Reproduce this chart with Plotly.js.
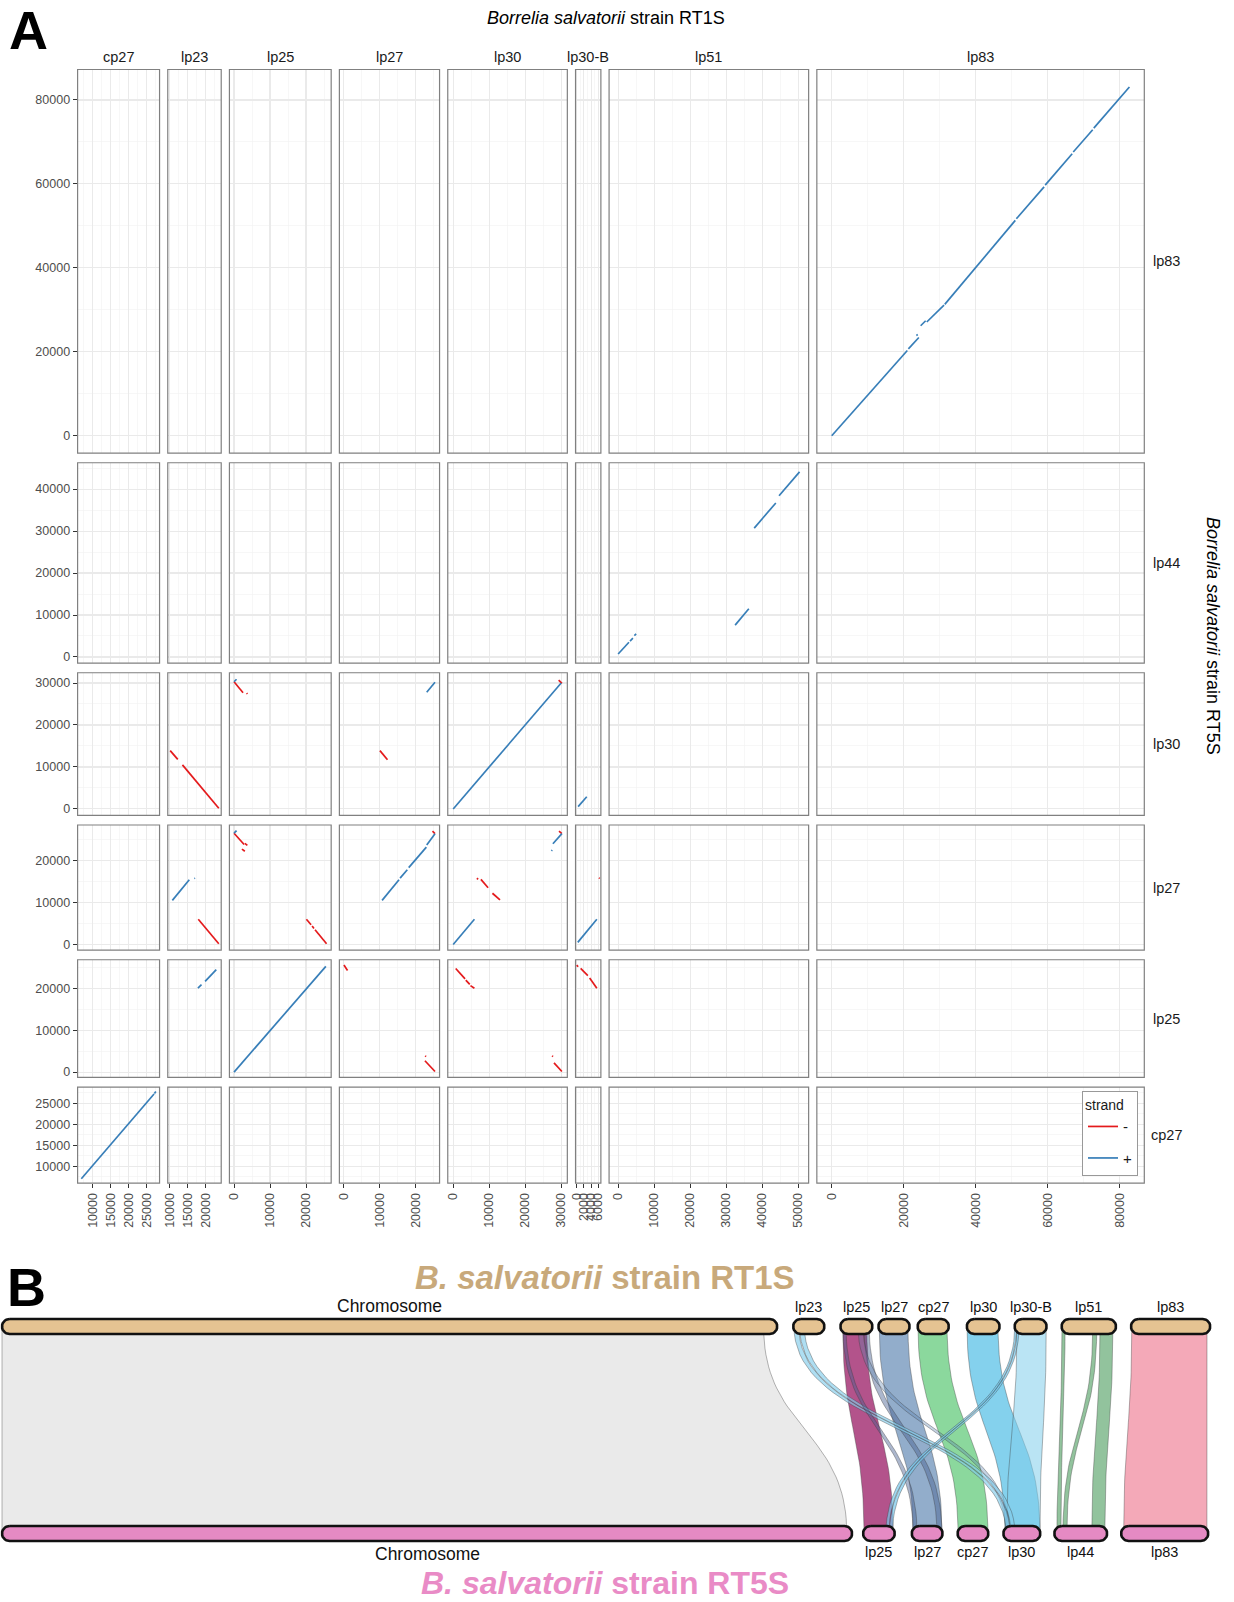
<!DOCTYPE html>
<html><head><meta charset="utf-8">
<script src="https://cdn.plot.ly/plotly-3.0.1.min.js"></script>
<style>html,body{margin:0;padding:0;background:#fff}</style>
</head><body><div id="chart" style="width:1234px;height:1602px"></div>
<script>
// ================= DATA =================
// Panel A: dot plot, x = B. salvatorii RT1S plasmids, y = RT5S plasmids (rows top to bottom)
const qryPlasmids = ['cp27','lp23','lp25','lp27','lp30','lp30-B','lp51','lp83'];
const refPlasmids = ['lp83','lp44','lp30','lp27','lp25','cp27'];
const strandLevels = ['-','+'];

// alignment segments per panel: [x start, y start, x end, y end, strand]
const seg_lp83_lp83 = [[0,0,21000,20300,'+'],[21300,20700,24200,23400,'+'],[23500,23900,23900,24100,'+'],[24700,26200,26100,27400,'+'],[26400,27100,31200,31100,'+'],[31400,31300,51000,51300,'+'],[51300,51700,59000,59300,'+'],[59300,59700,66800,67200,'+'],[67100,67600,72500,72900,'+'],[72800,73300,82700,83100,'+']];
const seg_lp51_lp44 = [[0,700,3000,3500,'+'],[3300,3800,4100,4500,'+'],[4500,5100,5000,5500,'+'],[32500,7600,36300,11500,'+'],[37800,30700,43800,36700,'+'],[44700,38400,50400,44100,'+']];
const seg_lp23_lp30 = [[10100,13900,12200,11800,'-'],[13500,10500,23600,150,'-']];
const seg_lp25_lp30 = [[0,30300,2500,27700,'-'],[3500,27600,3700,27400,'-'],[0,30300,700,30900,'+']];
const seg_lp27_lp30 = [[23000,27800,25300,30200,'+'],[10000,13900,12100,11700,'-']];
const seg_lp30_lp30 = [[0,0,30000,30000,'+'],[29300,30700,30200,29900,'-']];
const seg_lp30B_lp30 = [[400,550,2800,2900,'+']];
const seg_lp23_lp27 = [[10700,10500,15400,15400,'+'],[16800,15700,17000,15800,'+'],[17900,6000,23600,150,'-']];
const seg_lp25_lp27 = [[0,26500,2800,23800,'-'],[3000,24100,3700,23600,'-'],[2200,22700,3000,22200,'-'],[0,26500,700,27100,'+'],[20100,6000,21400,4700,'-'],[21700,4400,22200,3800,'-'],[22500,3500,25700,150,'-']];
const seg_lp27_lp27 = [[10600,10500,15300,15400,'+'],[15600,15800,17600,17800,'+'],[18000,18300,22900,23200,'+'],[23000,23700,25300,26400,'+'],[24600,27000,25300,26400,'-']];
const seg_lp30_lp27 = [[0,0,5900,6000,'+'],[6600,15800,6900,15500,'-'],[7700,15500,9700,13500,'-'],[10900,12200,13000,10600,'-'],[27300,22300,27500,22500,'+'],[27700,24000,30200,26400,'+'],[29400,27000,30200,26400,'-']];
const seg_lp30B_lp27 = [[300,500,5600,6000,'+'],[6200,15900,6400,15700,'-']];
const seg_lp23_lp25 = [[17800,20000,18800,20850,'+'],[19800,21600,22900,24400,'+']];
const seg_lp25_lp25 = [[0,0,25500,25200,'+']];
const seg_lp27_lp25 = [[0,25500,1000,24200,'-'],[22600,3900,22800,3700,'-'],[22500,2700,25300,150,'-']];
const seg_lp30_lp25 = [[700,24700,3300,22200,'-'],[3500,21900,4600,20900,'-'],[4800,20600,5900,20000,'-'],[27500,3900,27700,3700,'-'],[28000,2200,30200,150,'-']];
const seg_lp30B_lp25 = [[0,25500,400,25100,'-'],[1100,24700,3100,23000,'-'],[3600,22400,5600,20000,'-']];
const seg_cp27_cp27 = [[6800,7000,27000,27200,'+'],[27100,27300,27500,27800,'+']];

// [RT1S plasmid (x), RT5S plasmid (y), segments]
const panelSegments = [
  ['lp83','lp83',seg_lp83_lp83],['lp51','lp44',seg_lp51_lp44],
  ['lp23','lp30',seg_lp23_lp30],['lp25','lp30',seg_lp25_lp30],['lp27','lp30',seg_lp27_lp30],['lp30','lp30',seg_lp30_lp30],['lp30-B','lp30',seg_lp30B_lp30],
  ['lp23','lp27',seg_lp23_lp27],['lp25','lp27',seg_lp25_lp27],['lp27','lp27',seg_lp27_lp27],['lp30','lp27',seg_lp30_lp27],['lp30-B','lp27',seg_lp30B_lp27],
  ['lp23','lp25',seg_lp23_lp25],['lp25','lp25',seg_lp25_lp25],['lp27','lp25',seg_lp27_lp25],['lp30','lp25',seg_lp30_lp25],['lp30-B','lp25',seg_lp30B_lp25],
  ['cp27','cp27',seg_cp27_cp27]
];

// Panel B: synteny between the two strains
const topContigs = ['Chromosome','lp23','lp25','lp27','cp27','lp30','lp30-B','lp51','lp83'];
const topLengthKb = [969,39,40,39,39,41,40,68,99];
const botContigs = ['Chromosome','lp25','lp27','cp27','lp30','lp44','lp83'];
const botLengthKb = [966,36,35,35,42,60,99];
// links: top contig, top start/end (kb), bottom contig, bottom start/end (kb)
const linkTop      = ['Chromosome','lp23','lp23','lp25','lp25','lp25','lp25','lp27','cp27','lp30','lp30-B','lp30-B','lp30-B','lp51','lp51','lp51','lp83'];
const linkTopStart = [0,   1,  8,  3,  3, 29.5, 22,  1, 0.5, 0.3,  3,  0.2, 3,   0.5, 39, 48,  1];
const linkTopEnd   = [952, 7, 14, 33,  7, 36, 28.3, 37, 36.8, 39, 39.5, 2.4, 5.5, 4.3, 44, 64, 95];
const linkBot      = ['Chromosome','lp30','lp30','lp25','lp27','lp27','lp30','lp27','cp27','lp30','lp30','lp25','lp25','lp44','lp44','lp44','lp83'];
const linkBotStart = [0,   3,  8.6, 1, 1.4, 28.6, 3,  1.4, 0.5, 1.8, 4,  26, 30,  3,  9.8, 42.7, 3];
const linkBotEnd   = [960, 7.5, 13.2, 34, 6, 34.3, 7.5, 34.3, 34.5, 41.6, 41.6, 29.4, 33.4, 7.5, 14.3, 57.5, 97.5];

// ================= STYLE / LAYOUT =================
const W = 1234, H = 1602;
const px = v => v / W, py = v => 1 - v / H;
const FONT = 'Liberation Sans, Arial, Helvetica, sans-serif';
const strandColor = {'-':'#E41A1C','+':'#377EB8'};
const xDtick = {'cp27':5000,'lp23':5000,'lp25':10000,'lp27':10000,'lp30':10000,'lp30-B':2000,'lp51':10000,'lp83':20000};
const yDtick = {'lp83':20000,'lp44':10000,'lp30':10000,'lp27':10000,'lp25':10000,'cp27':5000};
const plotX0 = 77.6, plotX1 = 1144.3, gapX = 8.2;
const plotY0 = 69.5, plotY1 = 1183.1, gapY = 9.6;

function extent(vals){ const lo=Math.min(...vals), hi=Math.max(...vals), d=(hi-lo)*0.05; return [lo-d, hi+d]; }
const colRange = qryPlasmids.map(q => {
  const v=[]; panelSegments.filter(p=>p[0]===q).forEach(p=>p[2].forEach(s=>v.push(s[0],s[2]))); return extent(v);
});
const rowRange = refPlasmids.map(r => {
  const v=[]; panelSegments.filter(p=>p[1]===r).forEach(p=>p[2].forEach(s=>v.push(s[1],s[3]))); return extent(v);
});
function domains(ranges, a0, a1, gap){
  const spans = ranges.map(r=>r[1]-r[0]); const tot = spans.reduce((a,b)=>a+b,0);
  const k = (a1-a0-gap*(ranges.length-1))/tot; let cur=a0;
  return spans.map(s=>{ const d=[cur,cur+s*k]; cur+=s*k+gap; return d; });
}
const colPx = domains(colRange, plotX0, plotX1, gapX);
const rowPx = domains(rowRange, plotY0, plotY1, gapY);
const xid = j => j===0?'x':'x'+(j+1);
const yid = i => i===0?'y':'y'+(i+1);

const layout = {
  width:W, height:H, margin:{l:0,r:0,t:0,b:0}, paper_bgcolor:'white', plot_bgcolor:'white',
  font:{family:FONT, color:'#1A1A1A'}, hovermode:false, showlegend:true,
  legend:{x:px(1082), y:py(1091), xanchor:'left', yanchor:'top', bgcolor:'white', bordercolor:'#999', borderwidth:1,
          title:{text:'strand  ', font:{size:14,color:'#1A1A1A'}}, font:{size:15,color:'#1A1A1A'}, itemwidth:30, tracegroupgap:9},
  annotations:[], shapes:[]
};
function ann(o){ layout.annotations.push(Object.assign({xref:'paper', yref:'paper', xanchor:'center', yanchor:'middle', showarrow:false}, o)); }
const common = {ticks:'outside', ticklen:4, tickwidth:1, tickcolor:'#333', showline:false, mirror:false,
  showgrid:true, gridcolor:'#EAEAEA', gridwidth:1.1, zeroline:false, tickformat:'d', tick0:0, tickfont:{size:12.5,color:'#4D4D4D'}, fixedrange:true};
qryPlasmids.forEach((q,j)=>{
  layout[j===0?'xaxis':'xaxis'+(j+1)] = Object.assign({}, common, {
    domain:[px(colPx[j][0]), px(colPx[j][1])], range:colRange[j], anchor:yid(refPlasmids.length-1),
    dtick:xDtick[q], tickangle:-90,
    minor:{dtick:xDtick[q]/2, tick0:0, showgrid:true, gridcolor:'#F2F2F2', gridwidth:0.6}
  });
  ann({text:q, x:px((colPx[j][0]+colPx[j][1])/2), y:py(57), font:{size:14.5,color:'#1A1A1A'}});
});
refPlasmids.forEach((r,i)=>{
  layout[i===0?'yaxis':'yaxis'+(i+1)] = Object.assign({}, common, {
    domain:[py(rowPx[i][1]), py(rowPx[i][0])], range:rowRange[i], anchor:'x',
    dtick:yDtick[r],
    minor:{dtick:yDtick[r]/2, tick0:0, showgrid:true, gridcolor:'#F2F2F2', gridwidth:0.6}
  });
  ann({text:r, x:px(1166), y:py((rowPx[i][0]+rowPx[i][1])/2), font:{size:14.5,color:'#1A1A1A'}});
});

const traces = [];
// empty traces so every facet panel exists, plus its border
qryPlasmids.forEach((q,j)=>refPlasmids.forEach((r,i)=>{
  traces.push({type:'scatter', mode:'lines', x:[null], y:[null], xaxis:xid(j), yaxis:yid(i), showlegend:false, hoverinfo:'skip'});
  layout.shapes.push({type:'rect', xref:xid(j)+' domain', yref:yid(i)+' domain', x0:0, x1:1, y0:0, y1:1, line:{color:'#808080', width:1.2}, layer:'above'});
}));
strandLevels.forEach(st=>{
  let first = true;
  panelSegments.forEach(([q,r,segs])=>{
    const ss = segs.filter(s=>s[4]===st); if(!ss.length) return;
    const x=[], y=[];
    ss.forEach(s=>{x.push(s[0],s[2],null); y.push(s[1],s[3],null);});
    traces.push({type:'scatter', mode:'lines', x, y, xaxis:xid(qryPlasmids.indexOf(q)), yaxis:yid(refPlasmids.indexOf(r)),
      line:{color:strandColor[st], width:1.7}, name:st, legendgroup:st, showlegend:first, hoverinfo:'skip'});
    first = false;
  });
});

// titles panel A
ann({text:'<i>Borrelia salvatorii</i> strain RT1S', x:px(606), y:py(18), font:{size:18,color:'#000'}});
ann({text:'<i>Borrelia salvatorii</i> strain RT5S', x:px(1213), y:py(636), textangle:90, font:{size:18,color:'#000'}});
ann({text:'<b>A</b>', x:px(7), y:py(30), xanchor:'left', font:{size:54,color:'#000'}});
ann({text:'<b>B</b>', x:px(5), y:py(1287), xanchor:'left', font:{size:54,color:'#000'}});

// ================= PANEL B =================
layout.xaxis9 = {domain:[0,1], range:[0,W], visible:false, anchor:'y7', fixedrange:true};
layout.yaxis7 = {domain:[0, 1-1240/H], range:[H,1240], visible:false, anchor:'x9', fixedrange:true};
const topScale = 0.8, botScale = 0.88;           // px per kb
const topGap = [2,16,16,6,8,18,15,15,15], botGap = [2,11,17,15,15,14,14];
const topY = 1326.5, botY = 1533.5, barR = 7.5;
function place(lens, gaps, s){ let cur=0; return lens.map((L,i)=>{ cur+=gaps[i]; const a=cur; cur+=L*s; return [a,cur]; }); }
const topPos = place(topLengthKb, topGap, topScale);
const botPos = place(botLengthKb, botGap, botScale);
const tx = (c,kb)=> topPos[topContigs.indexOf(c)][0] + kb*topScale;
const bx = (c,kb)=> botPos[botContigs.indexOf(c)][0] + kb*botScale;

const linkFill = ['rgba(232,232,232,0.9)','rgba(130,205,235,0.65)','rgba(130,205,235,0.65)','rgba(160,40,110,0.8)',
  'rgba(70,95,145,0.45)','rgba(70,95,145,0.45)','rgba(90,130,175,0.35)','rgba(110,145,185,0.75)','rgba(90,200,115,0.7)',
  'rgba(80,190,230,0.7)','rgba(130,205,235,0.55)','rgba(120,200,235,0.7)','rgba(120,200,235,0.7)',
  'rgba(100,170,115,0.7)','rgba(100,170,115,0.7)','rgba(100,170,115,0.7)','rgba(240,140,160,0.75)'];

function edge(a,b,n){ const ym=(topY+botY)/2, xs=[], ys=[];
  for(let k=0;k<=n;k++){ const t=k/n,u=1-t;
    xs.push(u*u*u*a+3*u*u*t*a+3*u*t*t*b+t*t*t*b);
    ys.push(u*u*u*topY+3*u*u*t*ym+3*u*t*t*ym+t*t*t*botY); }
  return [xs,ys]; }
const order = linkTop.map((_,i)=>i).sort((a,b)=>(linkTopEnd[b]-linkTopStart[b])-(linkTopEnd[a]-linkTopStart[a]));
order.forEach(i=>{
  const a0=tx(linkTop[i],linkTopStart[i]), a1=tx(linkTop[i],linkTopEnd[i]);
  const b0=bx(linkBot[i],linkBotStart[i]), b1=bx(linkBot[i],linkBotEnd[i]);
  const [lx,ly]=edge(a0,b0,40), [rx,ry]=edge(a1,b1,40);
  const x=lx.concat(rx.slice().reverse(),[lx[0]]), y=ly.concat(ry.slice().reverse(),[ly[0]]);
  traces.push({type:'scatter', mode:'lines', x, y, xaxis:'x9', yaxis:'y7', fill:'toself', fillcolor:linkFill[i],
    line:{color:'rgba(60,60,60,0.55)', width:0.7}, showlegend:false, hoverinfo:'skip'});
});
function bar(x0,x1,yc,fill){ const r=Math.min(barR,(x1-x0)/2), xs=[], ys=[], n=14;
  for(let k=0;k<=n;k++){ const th=-Math.PI/2+Math.PI*k/n; xs.push(x0+r-r*Math.cos(th)); ys.push(yc+r*Math.sin(th)); }
  for(let k=0;k<=n;k++){ const th=Math.PI/2-Math.PI*k/n; xs.push(x1-r+r*Math.cos(th)); ys.push(yc+r*Math.sin(th)); }
  xs.push(xs[0]); ys.push(ys[0]);
  return {type:'scatter', mode:'lines', x:xs, y:ys, xaxis:'x9', yaxis:'y7', fill:'toself', fillcolor:fill, line:{color:'#111', width:2.6}, showlegend:false, hoverinfo:'skip'}; }
topPos.forEach((p,i)=>{
  traces.push(bar(p[0],p[1],topY,'#E5C392'));
  const big = topContigs[i]==='Chromosome';
  ann({text:topContigs[i], x:(p[0]+p[1])/2, y:big?1306:1307, xref:'x9', yref:'y7', font:{size:big?17.5:14.5, color:'#111'}});
});
botPos.forEach((p,i)=>{
  traces.push(bar(p[0],p[1],botY,'#E58AC3'));
  const big = botContigs[i]==='Chromosome';
  ann({text:botContigs[i], x:(p[0]+p[1])/2, y:big?1554:1552, xref:'x9', yref:'y7', font:{size:big?17.5:14.5, color:'#111'}});
});
ann({text:'<b><i>B. salvatorii</i> strain RT1S</b>', x:605, y:1277, xref:'x9', yref:'y7', font:{size:33,color:'#C8A97B'}});
ann({text:'<b><i>B. salvatorii</i> strain RT5S</b>', x:605, y:1583, xref:'x9', yref:'y7', font:{size:32,color:'#E98BC6'}});

Plotly.newPlot('chart', traces, layout, {staticPlot:true, displayModeBar:false});
</script>
</body></html>
